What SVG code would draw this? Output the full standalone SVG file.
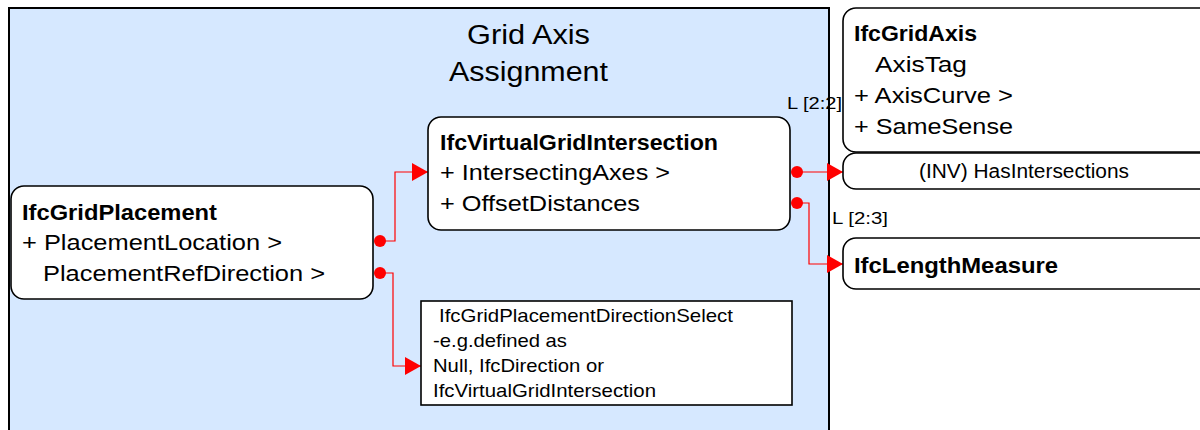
<svg xmlns="http://www.w3.org/2000/svg" width="1200" height="430" viewBox="0 0 1200 430">
<defs>
<style>
text{font-family:"Liberation Sans",Arial,sans-serif;fill:#000}
.t{font-size:22px}
.b{font-size:22px;font-weight:bold}
.s{font-size:18.5px}
.lbl{font-size:17px}
.ttl{font-size:27px}
.box{fill:#fff;stroke:#000;stroke-width:1.6}
.con{fill:none;stroke:#ff0000;stroke-width:1.2}
.dot{fill:#ff0000}
</style>
<marker id="arr" viewBox="0 0 16 18" refX="16" refY="9" markerWidth="16" markerHeight="18" markerUnits="userSpaceOnUse" orient="auto">
<path d="M0,0 L16,9 L0,18 Z" fill="#ff0000"/>
</marker>
</defs>
<rect width="1200" height="430" fill="#fff"/>
<g id="frame">
<rect x="9" y="8" width="820" height="440" fill="#d6e8ff" stroke="#000" stroke-width="2"/>
<text class="ttl" x="467" y="44" textLength="123" lengthAdjust="spacingAndGlyphs">Grid Axis</text>
<text class="ttl" x="449" y="81" textLength="159" lengthAdjust="spacingAndGlyphs">Assignment</text>
</g>
<g id="connectors">
<path class="con" d="M380,241 H395 V172 H428" marker-end="url(#arr)"/>
<path class="con" d="M380,273 H393 V366 H421" marker-end="url(#arr)"/>
<path class="con" d="M797,172 H843" marker-end="url(#arr)"/>
<path class="con" d="M797,203 H809 V264 H843" marker-end="url(#arr)"/>
<circle class="dot" cx="380" cy="241" r="6"/>
<circle class="dot" cx="380" cy="273" r="6"/>
<circle class="dot" cx="797" cy="172" r="6"/>
<circle class="dot" cx="797" cy="203" r="6"/>
<text class="lbl" x="787" y="109" textLength="55" lengthAdjust="spacingAndGlyphs">L [2:2]</text>
<text class="lbl" x="832" y="224" textLength="56" lengthAdjust="spacingAndGlyphs">L [2:3]</text>
</g>
<g id="IfcGridPlacement">
<rect class="box" x="11" y="186" width="362" height="113" rx="13"/>
<text class="b" x="22" y="220" textLength="195" lengthAdjust="spacingAndGlyphs">IfcGridPlacement</text>
<text class="t" x="22" y="250" textLength="260" lengthAdjust="spacingAndGlyphs">+ PlacementLocation &gt;</text>
<text class="t" x="43" y="281" textLength="282" lengthAdjust="spacingAndGlyphs">PlacementRefDirection &gt;</text>
</g>
<g id="IfcVirtualGridIntersection">
<rect class="box" x="428" y="117" width="362" height="113" rx="13"/>
<text class="b" x="440" y="150" textLength="278" lengthAdjust="spacingAndGlyphs">IfcVirtualGridIntersection</text>
<text class="t" x="440" y="180" textLength="230" lengthAdjust="spacingAndGlyphs">+ IntersectingAxes &gt;</text>
<text class="t" x="440" y="211" textLength="200" lengthAdjust="spacingAndGlyphs">+ OffsetDistances</text>
</g>
<g id="IfcGridAxis">
<rect class="box" x="843" y="8" width="370" height="144" rx="13"/>
<text class="b" x="854" y="41" textLength="123" lengthAdjust="spacingAndGlyphs">IfcGridAxis</text>
<text class="t" x="875" y="72" textLength="92" lengthAdjust="spacingAndGlyphs">AxisTag</text>
<text class="t" x="854" y="103" textLength="159" lengthAdjust="spacingAndGlyphs">+ AxisCurve &gt;</text>
<text class="t" x="854" y="134" textLength="159" lengthAdjust="spacingAndGlyphs">+ SameSense</text>
</g>
<g id="HasIntersections">
<rect class="box" x="843" y="153" width="370" height="36" rx="13"/>
<text x="919" y="178" style="font-size:20px" textLength="210" lengthAdjust="spacingAndGlyphs">(INV) HasIntersections</text>
</g>
<g id="IfcLengthMeasure">
<rect class="box" x="843" y="238" width="370" height="51" rx="13"/>
<text class="b" x="854" y="273" textLength="204" lengthAdjust="spacingAndGlyphs">IfcLengthMeasure</text>
</g>
<g id="DirectionSelect">
<rect x="421" y="301" width="371" height="104" fill="#fff" stroke="#000" stroke-width="1.6"/>
<text class="s" x="439" y="322" textLength="294" lengthAdjust="spacingAndGlyphs">IfcGridPlacementDirectionSelect</text>
<text class="s" x="433" y="347" textLength="134" lengthAdjust="spacingAndGlyphs">-e.g.defined as</text>
<text class="s" x="433" y="372" textLength="171" lengthAdjust="spacingAndGlyphs">Null, IfcDirection or</text>
<text class="s" x="433" y="397" textLength="223" lengthAdjust="spacingAndGlyphs">IfcVirtualGridIntersection</text>
</g>
</svg>
